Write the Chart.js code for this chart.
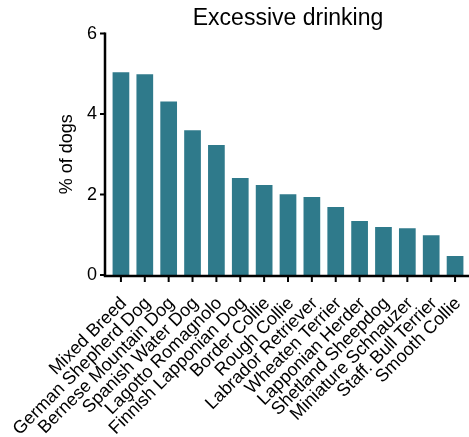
<!DOCTYPE html>
<html>
<head>
<meta charset="utf-8">
<script src="https://cdn.jsdelivr.net/npm/chart.js@4"></script>
<style>
  body { margin: 0; background: #fff; }
</style>
</head>
<body>
<canvas id="chart" width="469" height="437"></canvas>
<script>
const breeds = ["Mixed Breed", "German Shepherd Dog", "Bernese Mountain Dog", "Spanish Water Dog",
  "Lagotto Romagnolo", "Finnish Lapponian Dog", "Border Collie", "Rough Collie",
  "Labrador Retriever", "Wheaten Terrier", "Lapponian Herder", "Shetland Sheepdog",
  "Miniature Schnauzer", "Staff. Bull Terrier", "Smooth Collie"];
const pctDogs = [5.04, 4.99, 4.31, 3.60, 3.23, 2.41, 2.24, 2.01, 1.94, 1.69, 1.34, 1.19, 1.16, 0.99, 0.47];
const yTicks = [0, 2, 4, 6];

const fontName = "'Liberation Sans', Arial, Helvetica, sans-serif";

// axis lines + tick marks, drawn a little left of the first category like the original
const axisLines = {
    id: 'axisLines',
    afterDatasetsDraw(chart) {
        const {ctx, chartArea, scales} = chart;
        const x0 = chartArea.left - 4;
        const yb = chartArea.bottom + 1;
        ctx.save();
        ctx.strokeStyle = '#000';
        ctx.lineWidth = 2.5;
        ctx.beginPath();
        ctx.moveTo(x0, chartArea.top - 1);
        ctx.lineTo(x0, yb);
        ctx.lineTo(chartArea.right + 2, yb);
        ctx.stroke();
        ctx.lineWidth = 2;
        ctx.beginPath();
        yTicks.forEach(v => {
            const py = scales.y.getPixelForValue(v);
            ctx.moveTo(x0 - 5, py);
            ctx.lineTo(x0, py);
        });
        breeds.forEach((_, i) => {
            const px = scales.x.getPixelForValue(i);
            ctx.moveTo(px, yb);
            ctx.lineTo(px, yb + 6);
        });
        ctx.stroke();
        ctx.restore();
    }
};

new Chart(document.getElementById("chart"), {
    type: 'bar',
    data: {
        labels: breeds,
        datasets: [{
            label: 'Excessive drinking',
            data: pctDogs,
            backgroundColor: '#2f7a8b',
            borderWidth: 0,
            barPercentage: 0.7,
            categoryPercentage: 1
        }]
    },
    options: {
        responsive: false,
        animation: false,
        layout: { padding: { left: 0, right: 2, top: 0, bottom: 0 } },
        scales: {
            x: {
                grid: { display: false },
                border: { display: false },
                ticks: {
                    color: '#000',
                    font: { family: fontName, size: 18 },
                    minRotation: 45,
                    maxRotation: 45,
                    autoSkip: false,
                    padding: 10,
                    labelOffset: 3
                },
                afterFit(scale) {
                    scale.height = 162;
                    scale.paddingLeft = 0;
                    scale.paddingRight = 0;
                }
            },
            y: {
                min: 0,
                max: 6,
                grid: { display: false },
                border: { display: false },
                ticks: {
                    stepSize: 2,
                    color: '#000',
                    font: { family: fontName, size: 18 },
                    padding: 4
                },
                title: {
                    display: true,
                    text: '% of dogs',
                    color: '#000',
                    font: { family: fontName, size: 18 },
                    padding: { top: 56, bottom: 0 }
                },
                afterFit(scale) { scale.width = 109; }
            }
        },
        plugins: {
            legend: { display: false },
            tooltip: { enabled: false },
            title: {
                display: true,
                fullSize: false,
                text: 'Excessive drinking',
                color: '#000',
                font: { family: fontName, size: 23, weight: 'normal' },
                padding: { top: 5, bottom: 1 }
            }
        }
    },
    plugins: [axisLines]
});
</script>
</body>
</html>
